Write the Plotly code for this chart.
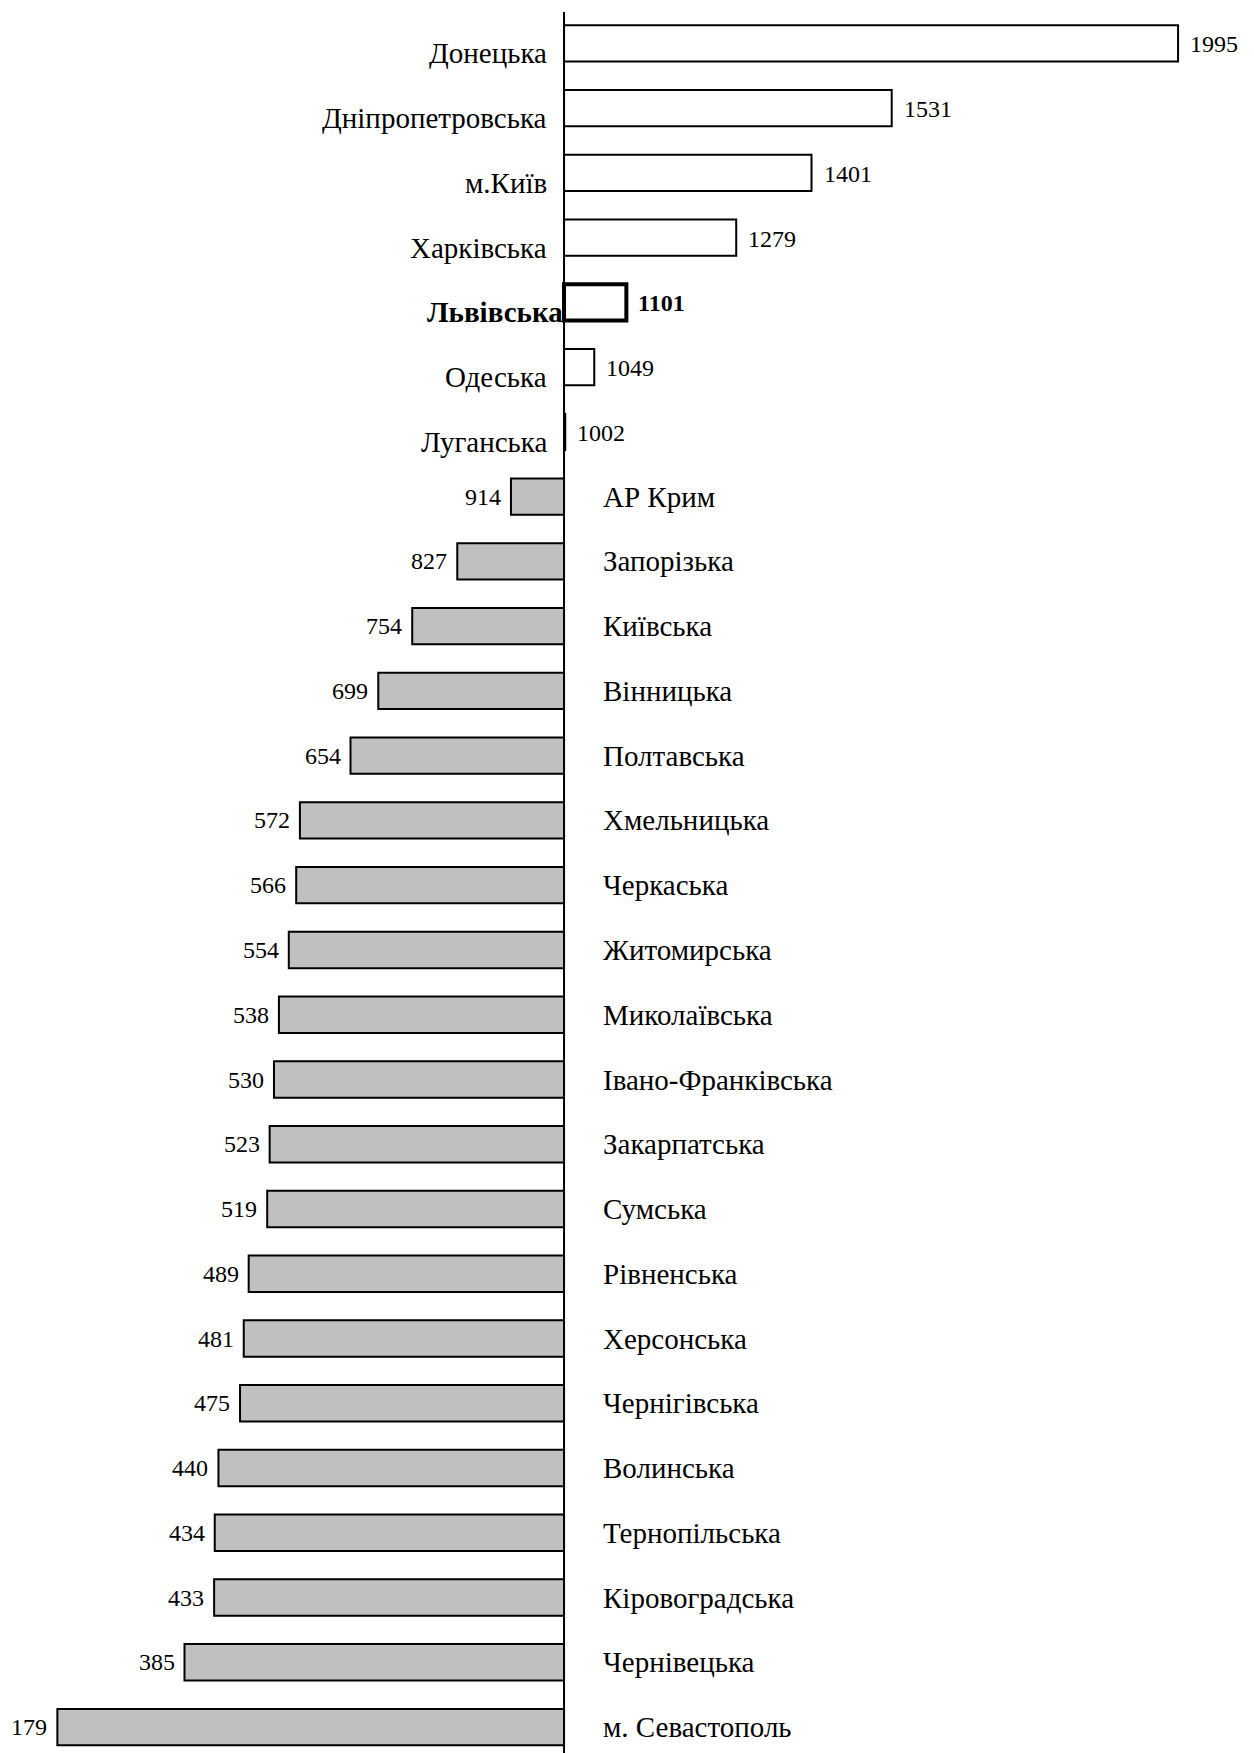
import plotly.graph_objects as go

# Регіони та значення (база 1000)
regions = [
    "Донецька", "Дніпропетровська", "м.Київ", "Харківська", "Львівська",
    "Одеська", "Луганська", "АР Крим", "Запорізька", "Київська",
    "Вінницька", "Полтавська", "Хмельницька", "Черкаська", "Житомирська",
    "Миколаївська", "Івано-Франківська", "Закарпатська", "Сумська",
    "Рівненська", "Херсонська", "Чернігівська", "Волинська",
    "Тернопільська", "Кіровоградська", "Чернівецька", "м. Севастополь",
]
values = [
    1995, 1531, 1401, 1279, 1101, 1049, 1002, 914, 827, 754,
    699, 654, 572, 566, 554, 538, 530, 523, 519, 489,
    481, 475, 440, 434, 433, 385, 179,
]
highlight = "Львівська"
BASE = 1000

FONT = "Liberation Serif, Times New Roman, serif"
pos = list(range(len(regions)))

colors = ["white" if v >= BASE else "#c0c0c0" for v in values]
line_w = [4 if r == highlight else 2 for r in regions]

fig = go.Figure()
fig.add_trace(go.Bar(
    y=pos,
    x=[v - BASE for v in values],
    base=BASE,
    orientation="h",
    width=0.56,
    marker=dict(color=colors, line=dict(color="black", width=line_w)),
    hoverinfo="skip",
    showlegend=False,
))

# Підписи
name_font = dict(family=FONT, size=29, color="black")
num_font = dict(family=FONT, size=24, color="black")
annotations = []
for i, (r, v) in enumerate(zip(regions, values)):
    bold = r == highlight
    txt_r = f"<b>{r}</b>" if bold else r
    txt_v = f"<b>{v}</b>" if bold else str(v)
    if v >= BASE:
        annotations.append(dict(x=BASE, y=i, text=txt_r, xanchor="right", font=name_font,
                                xshift=1 if bold else -15, yshift=-10, showarrow=False))
        annotations.append(dict(x=v, y=i, text=txt_v, xanchor="left", font=num_font,
                                xshift=10, yshift=-1, showarrow=False))
    else:
        annotations.append(dict(x=BASE, y=i, text=txt_r, xanchor="left", font=name_font,
                                xshift=37, yshift=0, showarrow=False))
        annotations.append(dict(x=v, y=i, text=txt_v, xanchor="right", font=num_font,
                                xshift=-8, yshift=0, showarrow=False))

fig.update_layout(
    width=1254, height=1753,
    margin=dict(l=0, r=0, t=0, b=0),
    plot_bgcolor="white", paper_bgcolor="white",
    font=dict(family=FONT, size=24, color="black"),
    annotations=annotations,
    xaxis=dict(range=[99, 2131], visible=False),
    yaxis=dict(range=[26.525, -0.548], visible=False),
    shapes=[dict(type="line", xref="x", yref="paper", x0=BASE, x1=BASE,
                 y0=0, y1=1 - 4 / 1753, line=dict(color="black", width=2))],
)

fig.write_html("out.html")
